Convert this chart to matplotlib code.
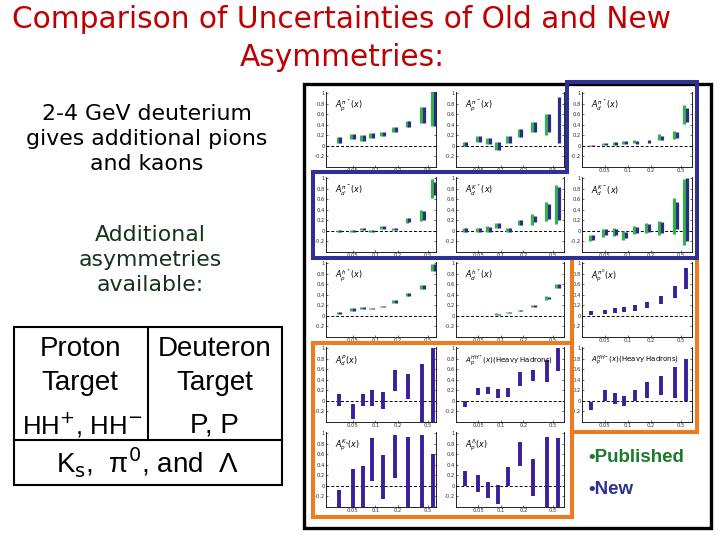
import numpy as np
import matplotlib
matplotlib.use("Agg")
import matplotlib.pyplot as plt
from matplotlib.patches import Rectangle, Polygon

# x bins (HERMES-like)
x_bins = [0.033, 0.05, 0.068, 0.09, 0.125, 0.18, 0.27, 0.42, 0.58]
nan = np.nan

# row 1
pip_p_pub_val = [0.11, 0.175, 0.15, 0.19, 0.225, 0.31, 0.41, 0.58, 0.70]
pip_p_pub_err = [0.05, 0.045, 0.055, 0.05, 0.045, 0.055, 0.06, 0.15, 0.33]
pip_p_new_val = [0.11, 0.175, 0.15, 0.19, 0.225, 0.31, 0.41, 0.58, 0.70]
pip_p_new_err = [0.05, 0.045, 0.055, 0.05, 0.045, 0.055, 0.06, 0.15, 0.33]

pim_p_pub_val = [0.04, 0.135, 0.085, 0.0, 0.125, 0.245, 0.36, 0.41, nan]
pim_p_pub_err = [0.04, 0.055, 0.055, 0.07, 0.065, 0.07, 0.095, 0.2, nan]
pim_p_new_val = [0.04, 0.135, 0.085, 0.0, 0.125, 0.245, 0.36, 0.44, 0.49]
pim_p_new_err = [0.04, 0.055, 0.055, 0.07, 0.065, 0.07, 0.09, 0.17, 0.44]

pip_d_pub_val = [0.01, 0.03, 0.045, 0.06, 0.085, nan, 0.17, 0.21, 0.59]
pip_d_pub_err = [0.015, 0.02, 0.025, 0.03, 0.035, nan, 0.05, 0.08, 0.18]
pip_d_new_val = [0.01, 0.03, 0.045, 0.06, 0.07, 0.09, 0.15, 0.2, 0.59]
pip_d_new_err = [0.012, 0.018, 0.022, 0.028, 0.03, 0.03, 0.04, 0.06, 0.13]

# row 2
pim_d_pub_val = [-0.01, 0.0, 0.03, 0.0, 0.06, 0.03, 0.2, 0.29, 0.8]
pim_d_pub_err = [0.02, 0.025, 0.02, 0.025, 0.03, 0.02, 0.045, 0.1, 0.18]
pim_d_new_val = [-0.01, 0.0, 0.03, 0.0, 0.06, 0.03, 0.2, 0.29, 0.8]
pim_d_new_err = [0.018, 0.022, 0.018, 0.022, 0.025, 0.018, 0.035, 0.08, 0.13]

kp_d_pub_val = [0.01, 0.015, 0.03, 0.1, 0.015, 0.16, 0.22, 0.36, 0.5]
kp_d_pub_err = [0.04, 0.045, 0.06, 0.05, 0.045, 0.055, 0.1, 0.18, 0.37]
kp_d_new_val = [0.01, 0.015, 0.03, 0.1, 0.015, 0.16, 0.22, 0.36, 0.52]
kp_d_new_err = [0.04, 0.045, 0.05, 0.04, 0.045, 0.05, 0.055, 0.14, 0.31]

km_d_pub_val = [-0.135, -0.04, -0.02, -0.085, 0.015, 0.05, 0.055, 0.29, 0.36]
km_d_pub_err = [0.06, 0.07, 0.07, 0.085, 0.075, 0.09, 0.13, 0.34, 0.63]
km_d_new_val = [-0.12, -0.025, -0.02, -0.08, 0.015, 0.06, 0.065, 0.29, 0.40]
km_d_new_err = [0.05, 0.055, 0.05, 0.06, 0.06, 0.075, 0.11, 0.26, 0.6]

# row 3
hp_p_pub_val = [0.05, 0.12, 0.15, 0.14, 0.18, 0.275, 0.4, 0.545, 0.92]
hp_p_pub_err = [0.02, 0.02, 0.02, 0.015, 0.015, 0.025, 0.025, 0.045, 0.07]
hp_p_new_val = [0.05, 0.12, 0.15, 0.14, 0.18, 0.275, 0.4, 0.545, 0.92]
hp_p_new_err = [0.02, 0.02, 0.02, 0.015, 0.015, 0.025, 0.025, 0.045, 0.07]

hp_d_pub_val = [0.0, 0.0, 0.0, 0.03, 0.06, 0.1, 0.19, 0.34, 0.56]
hp_d_pub_err = [0.006, 0.006, 0.006, 0.015, 0.008, 0.012, 0.015, 0.03, 0.04]
hp_d_new_val = [0.0, 0.0, 0.0, 0.03, 0.06, 0.1, 0.19, 0.34, 0.56]
hp_d_new_err = [0.006, 0.006, 0.006, 0.012, 0.008, 0.012, 0.015, 0.025, 0.04]

pi0_p_new_val = [0.05, 0.08, 0.1, 0.12, 0.15, 0.2, 0.3, 0.45, 0.7]
pi0_p_new_err = [0.04, 0.04, 0.05, 0.05, 0.05, 0.06, 0.08, 0.12, 0.2]

# row 4
p_d_new_val = [0.015, -0.2, 0.02, 0.055, 0.0, 0.39, 0.27, 0.15, 0.3]
p_d_new_err = [0.12, 0.14, 0.115, 0.16, 0.16, 0.2, 0.23, 0.55, 0.7]

hhp_p_new_val = [-0.06, 0.18, 0.2, 0.14, 0.16, 0.415, 0.48, 0.57, 0.78]
hhp_p_new_err = [0.06, 0.07, 0.07, 0.08, 0.08, 0.135, 0.11, 0.21, 0.22]

hhm_p_new_val = [-0.1, 0.1, 0.05, 0.0, 0.1, 0.2, 0.3, 0.35, 0.4]
hhm_p_new_err = [0.08, 0.1, 0.1, 0.1, 0.1, 0.15, 0.18, 0.3, 0.4]

# row 5
ks_p_new_val = [-0.24, -0.04, -0.015, 0.5, 0.17, 0.56, 0.25, 0.28, 0.095]
ks_p_new_err = [0.165, 0.365, 0.39, 0.405, 0.42, 0.41, 0.67, 0.69, 0.5]

lam_p_new_val = [0.14, 0.045, -0.08, -0.17, 0.18, 0.61, 0.155, 0.26, 0.25]
lam_p_new_err = [0.14, 0.155, 0.155, 0.18, 0.18, 0.23, 0.355, 0.67, 0.66]

green = '#35b34a'
navy = '#2e2a8e'
purple = '#3a1f9c'

fig = plt.figure(figsize=(7.2, 5.4), dpi=100)
fig.patch.set_facecolor('white')


def fx(px):
    return px / 720.0


def fy(py):
    return 1 - py / 540.0


def small_chart(left, top, width, label, xlim, pub=None, new=None, only=None,
                lab_size=5.8):
    h = 75
    ax = fig.add_axes([fx(left), fy(top + h), width / 720.0, h / 540.0])
    ax.set_xscale('log')
    ax.set_xlim(*xlim)
    ax.set_ylim(-0.4, 1.02)
    ax.axhline(0, color='black', lw=0.7, ls=(0, (3, 2)))
    x = np.array(x_bins)
    if only is not None:
        v, e = np.array(only[0]), np.array(only[1])
        ax.vlines(x, v - e, v + e, color=purple, lw=2.8, capstyle='butt')
    if pub is not None:
        v, e = np.array(pub[0]), np.array(pub[1])
        ok = ~np.isnan(v)
        ax.vlines(x[ok] / 1.045, (v - e)[ok], (v + e)[ok], color=green, lw=2.3)
    if new is not None:
        v, e = np.array(new[0]), np.array(new[1])
        ok = ~np.isnan(v)
        ax.vlines(x[ok] * 1.045, (v - e)[ok], (v + e)[ok], color=navy, lw=2.3)
    ax.set_yticks([-0.2, 0, 0.2, 0.4, 0.6, 0.8, 1])
    ax.set_yticklabels(['-0.2', '0', '0.2', '0.4', '0.6', '0.8', '1'])
    ax.set_xticks([0.05, 0.1, 0.2, 0.5])
    ax.set_xticklabels(['0.05', '0.1', '0.2', '0.5'])
    ax.xaxis.set_minor_locator(matplotlib.ticker.NullLocator())
    ax.tick_params(labelsize=3.8, length=1.5, width=0.5, pad=1, direction='in',
                   right=True, colors='#333333')
    ax.spines['top'].set_visible(False)
    for s in ['left', 'right', 'bottom']:
        ax.spines[s].set_linewidth(0.6)
    ax.text(0.08, 0.82, label, transform=ax.transAxes, fontsize=lab_size,
            ha='left', va='center')
    return ax


col_left = [326, 456, 582]
col_w = [110, 108, 110]
col_xlim = [(0.0222, 0.634), (0.025, 0.70), (0.025, 0.70)]
row_top = [92, 177, 262, 347, 432]

charts = [
    (0, 0, r'$A_p^{\pi^+}(x)$', (pip_p_pub_val, pip_p_pub_err), (pip_p_new_val, pip_p_new_err), None),
    (0, 1, r'$A_p^{\pi^-}(x)$', (pim_p_pub_val, pim_p_pub_err), (pim_p_new_val, pim_p_new_err), None),
    (0, 2, r'$A_d^{\pi^+}(x)$', (pip_d_pub_val, pip_d_pub_err), (pip_d_new_val, pip_d_new_err), None),
    (1, 0, r'$A_d^{\pi^-}(x)$', (pim_d_pub_val, pim_d_pub_err), (pim_d_new_val, pim_d_new_err), None),
    (1, 1, r'$A_d^{K^+}(x)$', (kp_d_pub_val, kp_d_pub_err), (kp_d_new_val, kp_d_new_err), None),
    (1, 2, r'$A_d^{K^-}(x)$', (km_d_pub_val, km_d_pub_err), (km_d_new_val, km_d_new_err), None),
    (2, 0, r'$A_p^{h^+}(x)$', (hp_p_pub_val, hp_p_pub_err), (hp_p_new_val, hp_p_new_err), None),
    (2, 1, r'$A_d^{h^+}(x)$', (hp_d_pub_val, hp_d_pub_err), (hp_d_new_val, hp_d_new_err), None),
    (2, 2, r'$A_p^{\pi^0}(x)$', None, None, (pi0_p_new_val, pi0_p_new_err)),
    (3, 0, r'$A_d^{P}(x)$', None, None, (p_d_new_val, p_d_new_err)),
    (3, 1, r'$A_p^{HH^+}(x)$' + '(Heavy Hadrons)', None, None, (hhp_p_new_val, hhp_p_new_err)),
    (3, 2, r'$A_p^{HH^-}(x)$' + '(Heavy Hadrons)', None, None, (hhm_p_new_val, hhm_p_new_err)),
    (4, 0, r'$A_p^{K_s}(x)$', None, None, (ks_p_new_val, ks_p_new_err)),
    (4, 1, r'$A_p^{\Lambda}(x)$', None, None, (lam_p_new_val, lam_p_new_err)),
]

for r, c, lab, pub, new, only in charts:
    size = 5.0 if 'Heavy' in lab else 5.8
    small_chart(col_left[c], row_top[r], col_w[c], lab, col_xlim[c], pub, new,
                only, lab_size=size)


def add_patch(p):
    p.set_transform(fig.transFigure)
    fig.patches.append(p)


def poly(pts, color, lw, z):
    add_patch(Polygon([(fx(a), fy(b)) for a, b in pts], closed=True,
                      fill=False, edgecolor=color, lw=lw, zorder=z,
                      joinstyle='miter'))


# frames
poly([(304, 84), (711, 84), (711, 528), (304, 528)], 'black', 2.4, 10)
poly([(313, 343), (572, 343), (572, 517), (313, 517)], '#f07a1e', 2.9, 11)
poly([(572, 258), (697, 258), (697, 432), (572, 432)], '#f07a1e', 2.9, 11)
poly([(313, 172), (567, 172), (567, 82), (697, 82), (697, 258), (313, 258)],
     '#2e3192', 2.9, 12)

# legend text
fig.text(fx(588), fy(458), u'\u2022Published', color='#1b7a2c', fontsize=13.5,
         fontweight='bold', family='Liberation Sans', ha='left', va='center')
fig.text(fx(588), fy(490), u'\u2022New', color='#2e3192', fontsize=13.5,
         fontweight='bold', family='Liberation Sans', ha='left', va='center')

# title
fig.text(fx(342), fy(20), 'Comparison of Uncertainties of Old and New',
         color='#c00000', fontsize=21.3, ha='center', va='center')
fig.text(fx(342), fy(58), 'Asymmetries:', color='#c00000', fontsize=21.3,
         ha='center', va='center')

# left text
fig.text(fx(147), fy(139), '2-4 GeV deuterium\ngives additional pions\nand kaons',
         fontsize=15.8, ha='center', va='center', linespacing=1.3)
fig.text(fx(150), fy(260), 'Additional\nasymmetries\navailable:',
         color='#14341c', fontsize=15.8, ha='center', va='center', linespacing=1.3)

# table
add_patch(Rectangle((fx(14), fy(485)), fx(282) - fx(14), fy(327) - fy(485),
                    fill=False, edgecolor='black', lw=1.5, zorder=10))
fig.add_artist(plt.Line2D([fx(148), fx(148)], [fy(327), fy(440)],
                          color='black', lw=1.5))
fig.add_artist(plt.Line2D([fx(14), fx(282)], [fy(440), fy(440)],
                          color='black', lw=1.5))
tf = dict(fontsize=20, family='Liberation Sans', ha='center', va='center')
fig.text(fx(80), fy(349), 'Proton', **tf)
fig.text(fx(215), fy(349), 'Deuteron', **tf)
fig.text(fx(80), fy(383), 'Target', **tf)
fig.text(fx(215), fy(383), 'Target', **tf)
fig.text(fx(82), fy(425), r'HH$^{+}$, HH$^{-}$', fontsize=18.5,
         family='Liberation Sans', ha='center', va='center')
fig.text(fx(214), fy(425), 'P, P', **tf)
fig.text(fx(147), fy(463), u'K$_{\\rm s}$,  \u03c0$^{0}$, and  \u039b', **tf)

fig.savefig('out.png', dpi=100)
